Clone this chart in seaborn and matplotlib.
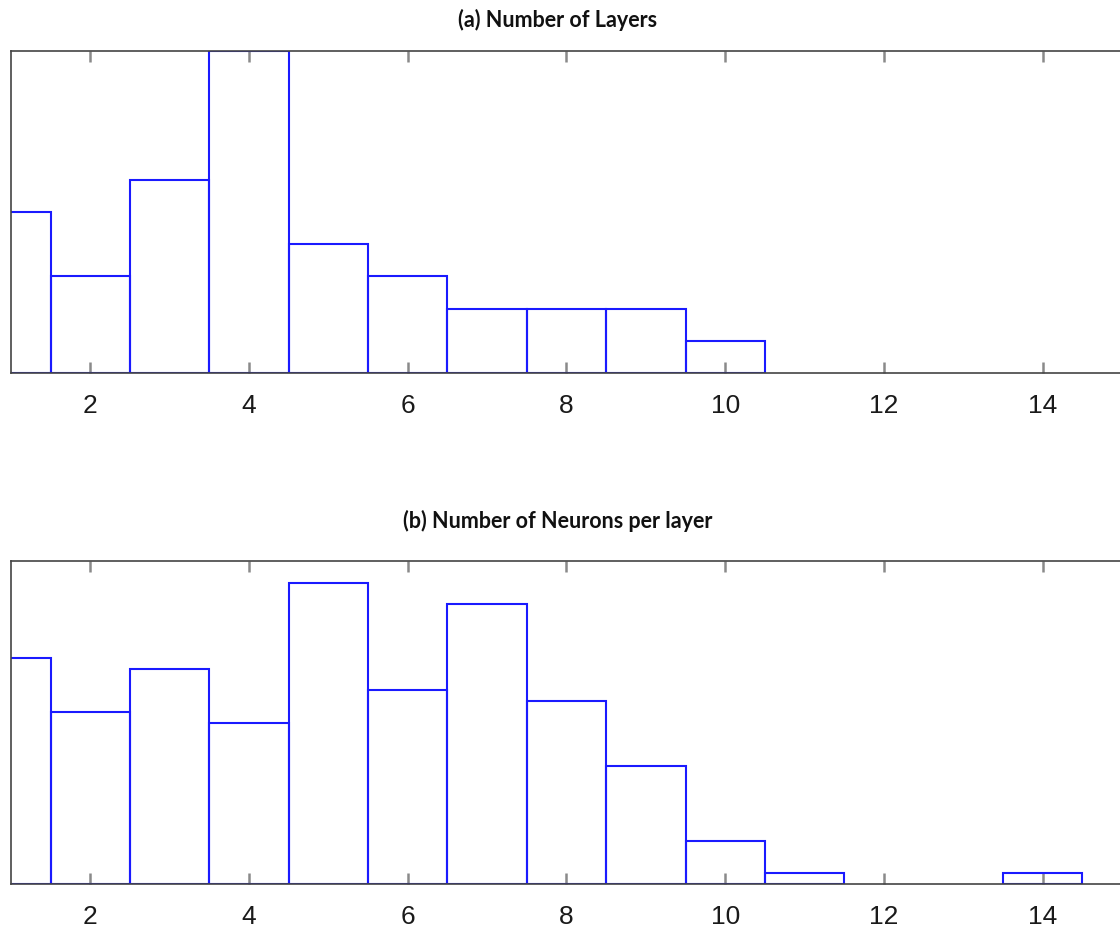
import numpy as np
import matplotlib
matplotlib.use("Agg")
import matplotlib.pyplot as plt
import seaborn as sns

# Data
bin_centers = np.arange(1, 15)
layers_counts = [5, 3, 6, 10, 4, 3, 2, 2, 2, 1, 0, 0, 0, 0]
neurons_counts = [21, 16, 20, 15, 28, 18, 26, 17, 11, 4, 1, 0, 0, 1]
titles = ["(a) Number of Layers", "(b) Number of Neurons per layer"]
tick_values = [2, 4, 6, 8, 10, 12, 14]
y_max = [10, 30]

sns.set_theme(style="white")
plt.rcParams['font.family'] = ['Liberation Sans', 'DejaVu Sans']

W, H = 1120, 933
fig = plt.figure(figsize=(W / 100, H / 100), dpi=100)

axes_px = [(11, 51, 373), (11, 561, 884)]  # left, top, bottom in pixels
right_px = 1122
title_y_px = [20, 521]

edges = np.arange(0.5, 15.5, 1.0)

for i, counts in enumerate([layers_counts, neurons_counts]):
    left, top, bottom = axes_px[i]
    ax = fig.add_axes([left / W, 1 - bottom / H, (right_px - left) / W, (bottom - top) / H])
    values = np.repeat(bin_centers, counts)
    sns.histplot(x=values, bins=edges, element="bars", fill=False,
                 color="#0000ff", linewidth=1.5, ax=ax)
    for p in list(ax.patches):
        p.set_edgecolor("#1a1aff")
        if p.get_height() == 0:
            p.remove()
    ax.set_xlim(1, 15)
    ax.set_ylim(0, y_max[i])
    ax.set_xticks(tick_values)
    ax.set_xticklabels([str(t) for t in tick_values])
    ax.set_yticks([])
    ax.set_xlabel("")
    ax.set_ylabel("")
    ax.tick_params(axis="x", direction="in", top=True, bottom=True,
                   length=8, width=1.8, color="#8a8a8a",
                   labelsize=19, labelcolor="#1a1a1a", pad=15)
    for s in ax.spines.values():
        s.set_visible(True)
        s.set_color("#444444")
        s.set_linewidth(1.2)
    fig.text(558 / W, 1 - title_y_px[i] / H, titles[i], ha="center", va="center",
             fontsize=15.5, fontweight="bold", family=["Lato", "DejaVu Sans"], color="#111111")

fig.savefig("out.png", dpi=100)
